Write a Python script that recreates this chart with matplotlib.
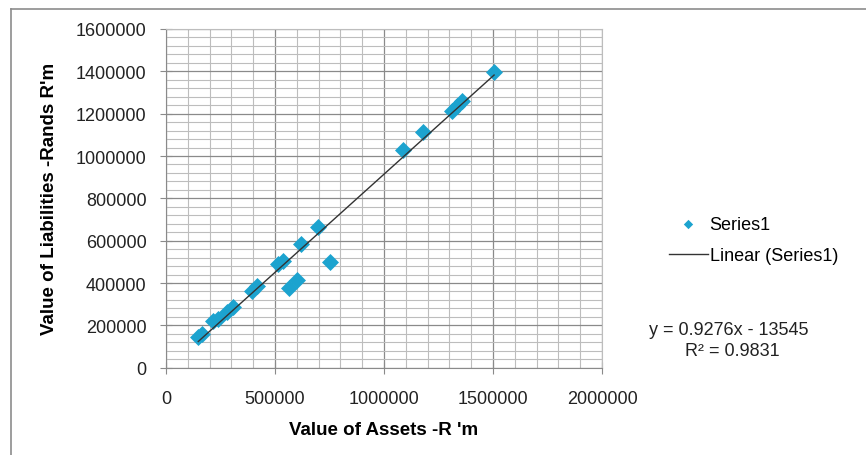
import numpy as np
import matplotlib.pyplot as plt
from matplotlib.ticker import MultipleLocator, FuncFormatter
from matplotlib.lines import Line2D

plt.rcParams['font.family'] = ['Liberation Sans', 'DejaVu Sans']

# data (R'm)
assets = [148000, 164000, 217000, 240000, 278000, 309000, 393000, 416000,
          515000, 535000, 566000, 602000, 618000, 696000, 752000,
          1086000, 1180000, 1311000, 1334000, 1356000, 1505000]
liabilities = [143600, 159000, 222000, 230000, 261000, 285000, 364000, 384000,
               490000, 505000, 376000, 416000, 584000, 663000, 501000,
               1030000, 1115000, 1214000, 1238000, 1261000, 1398000]
slope = 0.9276
intercept = -13545
r2 = 0.9831

fig = plt.figure(figsize=(8.66, 4.56), dpi=100)
ax = fig.add_axes([166/866, 1 - 368.7/456, 436/866, 338.7/456])

# outer chart frame (top and left edges visible)
fig.add_artist(Line2D([11/866, 1], [1 - 10/456, 1 - 10/456], color='#8c8c8c', lw=1.2))
fig.add_artist(Line2D([11/866, 11/866], [0, 1 - 10/456], color='#8c8c8c', lw=1.2))

ax.set_xlim(0, 2000000)
ax.set_ylim(0, 1600000)
ax.xaxis.set_major_locator(MultipleLocator(500000))
ax.xaxis.set_minor_locator(MultipleLocator(100000))
ax.yaxis.set_major_locator(MultipleLocator(200000))
ax.yaxis.set_minor_locator(MultipleLocator(40000))
plain = FuncFormatter(lambda v, p: '%d' % round(v))
ax.xaxis.set_major_formatter(plain)
ax.yaxis.set_major_formatter(plain)
ax.grid(which='major', color='#8a8a8a', lw=0.9)
ax.grid(which='minor', color='#bdbdbd', lw=0.8)
ax.set_axisbelow(True)

for s in ['top', 'right']:
    ax.spines[s].set_color('#bdbdbd')
for s in ['left', 'bottom']:
    ax.spines[s].set_color('#8a8a8a')

ax.tick_params(which='major', direction='inout', length=8, color='#8a8a8a',
               labelsize=13, labelcolor='#222222', pad=10)
ax.tick_params(which='minor', length=0)
ax.tick_params(axis='x', pad=12)

ax.scatter(assets, liabilities, marker='D', s=75, color='#1ca3cf', zorder=3,
           linewidths=0, label='Series1')
xs = np.array([min(assets), max(assets)])
ax.plot(xs, slope * xs + intercept, color='#333333', lw=1, zorder=4,
        label='Linear (Series1)')

ax.set_xlabel("Value of Assets -R 'm", fontsize=13.5, fontweight='bold', labelpad=10)
ax.set_ylabel("Value of Liabilities -Rands R'm", fontsize=13.5, fontweight='bold', labelpad=13)

fig.legend(loc='upper left', bbox_to_anchor=(669/866, 1 - 217/456), frameon=False,
           fontsize=13, handlelength=2.15, handletextpad=0.1, labelspacing=0.8,
           borderpad=0, borderaxespad=0, scatterpoints=1, markerscale=0.55)

fig.text(729/866, 1 - 331/456, 'y = 0.9276x - 13545', ha='center', va='center',
         fontsize=13, color='#222222')
fig.text(732/866, 1 - 352/456, 'R² = %.4f' % r2, ha='center', va='center',
         fontsize=13, color='#222222')

fig.savefig('out.png', dpi=100)
